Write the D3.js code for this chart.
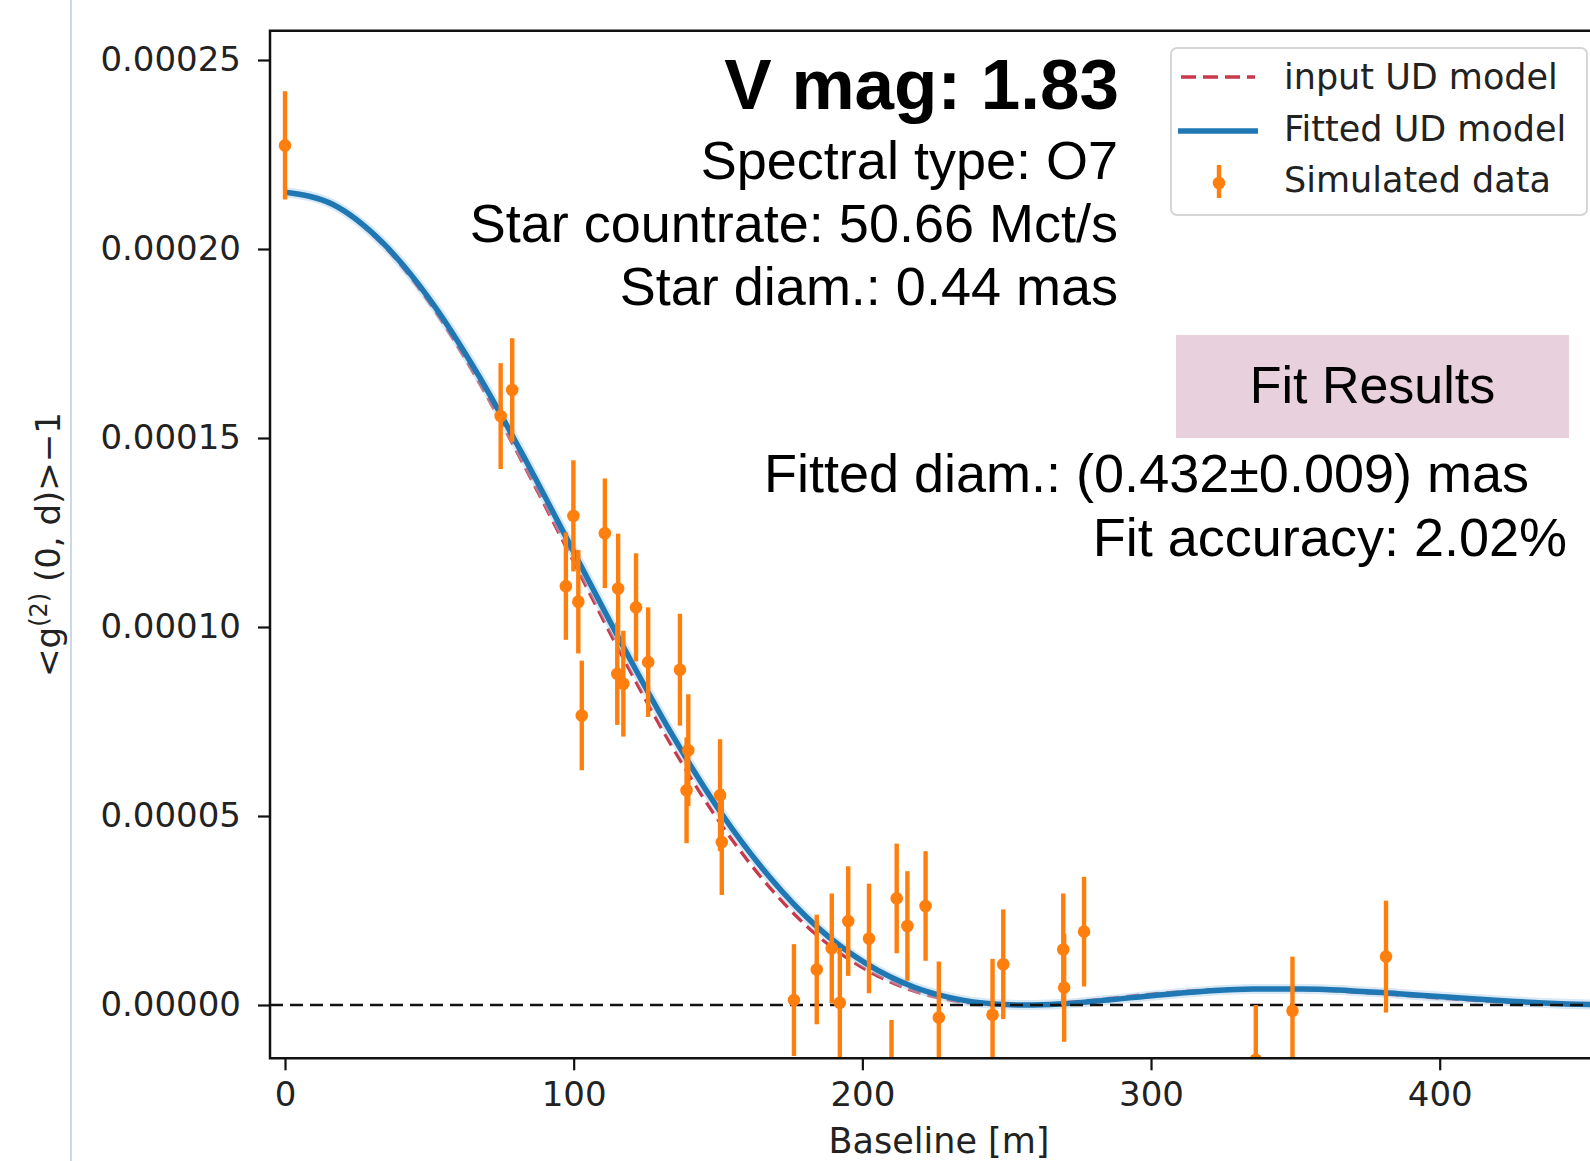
<!DOCTYPE html>
<html>
<head>
<meta charset="utf-8">
<script src="https://cdn.jsdelivr.net/npm/d3@7"></script>
<style>
  html, body { margin: 0; padding: 0; background: #ffffff; }
  svg { display: block; }
</style>
</head>
<body>
<svg id="chart" width="1590" height="1161"></svg>
<script>
// ---------- data ----------
// simulated data: baseline [m], <g2(0,d)>-1, error
const baseline = [0, 74.7, 78.7, 97.3, 99.9, 101.6, 102.8, 110.8, 115.1, 115.4, 117.2, 121.6, 125.8, 136.8, 139.1, 139.7, 150.7, 151.3,
  176.3, 184.2, 189.4, 192.2, 195.1, 202.3, 210.1, 211.9, 215.6, 221.9, 226.5, 245.1, 248.8, 269.6, 269.9, 276.8, 336.3, 349.0, 381.4];
const g2 = [227.4e-6, 155.8e-6, 162.7e-6, 110.8e-6, 129.4e-6, 106.7e-6, 76.6e-6, 124.8e-6, 87.6e-6, 110.2e-6, 85.0e-6, 105.2e-6, 90.7e-6,
  88.7e-6, 56.8e-6, 67.4e-6, 55.5e-6, 43.1e-6, 1.3e-6, 9.4e-6, 15.0e-6, 0.6e-6, 22.2e-6, 17.6e-6, -18.5e-6, 28.2e-6, 20.9e-6, 26.2e-6,
  -3.3e-6, -2.6e-6, 10.8e-6, 14.7e-6, 4.6e-6, 19.4e-6, -14.5e-6, -1.5e-6, 12.8e-6];
const g2err = [14.3e-6, 14.0e-6, 13.7e-6, 14.2e-6, 14.7e-6, 13.7e-6, 14.5e-6, 14.5e-6, 13.5e-6, 14.5e-6, 14.0e-6, 14.3e-6, 14.5e-6,
  14.8e-6, 14.0e-6, 14.8e-6, 14.8e-6, 14.0e-6, 14.8e-6, 14.5e-6, 14.5e-6, 14.5e-6, 14.5e-6, 14.5e-6, 14.5e-6, 14.5e-6, 14.5e-6, 14.5e-6,
  14.8e-6, 14.8e-6, 14.5e-6, 14.8e-6, 14.3e-6, 14.5e-6, 14.5e-6, 14.3e-6, 14.8e-6];

// fitted UD model curve
const fitB = [0, 16.8, 33.5, 50.3, 67.1, 83.8, 100.6, 117.4, 134.1, 150.9, 167.7, 184.4, 201.2, 218.0, 234.7, 251.5, 257.0,
  268.3, 285.0, 301.8, 318.6, 335.4, 352.1, 368.9, 385.7, 402.4, 419.2, 436.0, 452.7, 469.5];
// input UD model curve (red dashed, slightly inside the blue one)
const inputB = [0, 16.5, 32.9, 49.4, 65.9, 82.3, 98.8, 115.3, 131.7, 148.2, 164.7, 181.1, 197.6, 214.1, 230.5, 247.0, 252.4,
  263.5, 279.9, 296.4, 312.9, 329.4, 345.8, 362.3, 378.8, 395.2, 411.7, 428.2, 444.6, 461.1];
const modelV = [215.0e-6, 211.7e-6, 201.9e-6, 186.5e-6, 166.5e-6, 143.5e-6, 119.0e-6, 94.5e-6, 71.5e-6, 51.0e-6, 34.0e-6, 20.6e-6,
  11.0e-6, 4.7e-6, 1.3e-6, 0.07e-6, 0, 0.26e-6, 1.3e-6, 2.6e-6, 3.65e-6, 4.25e-6, 4.25e-6, 3.8e-6, 3.0e-6, 2.1e-6, 1.23e-6, 0.55e-6, 0.14e-6, 0];

const yTicks = [0, 0.00005, 0.0001, 0.00015, 0.0002, 0.00025];
const xTicks = [0, 100, 200, 300, 400];

const legendLabels = ["input UD model", "Fitted UD model", "Simulated data"];
const infoTitle = "V mag: 1.83";
const infoLines = ["Spectral type: O7", "Star countrate: 50.66 Mct/s", "Star diam.: 0.44 mas"];
const fitTitle = "Fit Results";
const fitLines = ["Fitted diam.: (0.432\u00B10.009) mas", "Fit accuracy: 2.02%"];

// ---------- layout ----------
const L = 270, R = 1608, T = 30.7, B = 1058.3;
const svg = d3.select("#chart");
const x = d3.scaleLinear().domain([-5.2, 458.3]).range([L, R]);
const y = d3.scaleLinear().domain([-1.41e-5, 2.5775e-4]).range([B, T]);

const C_BLUE = "#1f77b4", C_ORANGE = "#ff7f0e", C_RED = "#c63a4c";
const DJ = "'DejaVu Sans', sans-serif";
const HV = "'Liberation Sans', Arial, Helvetica, sans-serif";

// decorative page rule on the left
svg.append("line").attr("x1", 71).attr("x2", 71).attr("y1", 0).attr("y2", 1161)
  .attr("stroke", "#c9d8ec").attr("stroke-width", 2);

svg.append("clipPath").attr("id", "clip").append("rect")
  .attr("x", L).attr("y", T).attr("width", R - L).attr("height", B - T);
const plot = svg.append("g").attr("clip-path", "url(#clip)");

const lineGen = (bs) => d3.line().x((d, i) => x(bs[i])).y(d => y(d)).curve(d3.curveMonotoneX);

// input model (red dashed)
plot.append("path").datum(modelV).attr("d", lineGen(inputB))
  .attr("fill", "none").attr("stroke", C_RED).attr("stroke-width", 3.4).attr("stroke-dasharray", "13,7");
// fitted model halo + line
plot.append("path").datum(modelV).attr("d", lineGen(fitB))
  .attr("fill", "none").attr("stroke", "#a9cbe6").attr("stroke-opacity", 0.45).attr("stroke-width", 10);
plot.append("path").datum(modelV).attr("d", lineGen(fitB))
  .attr("fill", "none").attr("stroke", C_BLUE).attr("stroke-width", 5.5);

// zero line
plot.append("line").attr("x1", L).attr("x2", R).attr("y1", y(0)).attr("y2", y(0))
  .attr("stroke", "#111").attr("stroke-width", 2.6).attr("stroke-dasharray", "13,7");

// error bars + points
const pts = plot.append("g");
baseline.forEach((b, i) => {
  pts.append("line").attr("x1", x(b)).attr("x2", x(b))
    .attr("y1", y(g2[i] - g2err[i])).attr("y2", y(g2[i] + g2err[i]))
    .attr("stroke", C_ORANGE).attr("stroke-width", 4.4);
});
baseline.forEach((b, i) => {
  pts.append("circle").attr("cx", x(b)).attr("cy", y(g2[i])).attr("r", 6.3).attr("fill", C_ORANGE);
});

// axes
const yAxis = d3.axisLeft(y).tickValues(yTicks).tickFormat(d3.format(".5f")).tickSize(12).tickPadding(17);
const gy = svg.append("g").attr("transform", `translate(${L},0)`).call(yAxis);
const xAxis = d3.axisBottom(x).tickValues(xTicks).tickFormat(d3.format("d")).tickSize(12).tickPadding(12);
const gx = svg.append("g").attr("transform", `translate(0,${B})`).call(xAxis);
[gx, gy].forEach(g => {
  g.select(".domain").remove();
  g.selectAll(".tick line").attr("stroke", "#111").attr("stroke-width", 2.2);
  g.selectAll(".tick text").attr("fill", "#222").style("font-family", DJ).style("font-size", "34px");
});

// frame
svg.append("path").attr("d", `M${R},${T}H${L}V${B}H${R}`)
  .attr("fill", "none").attr("stroke", "#111").attr("stroke-width", 2.5);

// axis labels
svg.append("text").attr("x", (L + R) / 2).attr("y", 1153).attr("text-anchor", "middle")
  .style("font-family", DJ).style("font-size", "35px").attr("fill", "#222").text("Baseline [m]");
const yl = svg.append("text").attr("transform", `translate(60,${(T + B) / 2}) rotate(-90)`)
  .attr("text-anchor", "middle").style("font-family", DJ).style("font-size", "34px").attr("fill", "#222");
yl.append("tspan").text("<g");
yl.append("tspan").attr("dy", -13).style("font-size", "24px").text("(2)");
yl.append("tspan").attr("dy", 13).text(" (0, d)>\u22121");

// star info text
svg.append("text").attr("x", 1119).attr("y", 109).attr("text-anchor", "end")
  .style("font-family", HV).style("font-weight", "bold").style("font-size", "71px").attr("fill", "#000").text(infoTitle);
infoLines.forEach((t, i) => {
  svg.append("text").attr("x", 1118).attr("y", 178.5 + i * 63).attr("text-anchor", "end")
    .style("font-family", HV).style("font-size", "54px").attr("fill", "#000").text(t);
});

// fit results box
svg.append("rect").attr("x", 1176).attr("y", 335).attr("width", 393).attr("height", 103).attr("fill", "#e8d0dc");
svg.append("text").attr("x", 1372.5).attr("y", 403).attr("text-anchor", "middle")
  .style("font-family", HV).style("font-size", "52px").attr("fill", "#000").text(fitTitle);
svg.append("text").attr("x", 1529).attr("y", 492).attr("text-anchor", "end")
  .style("font-family", HV).style("font-size", "54px").attr("fill", "#000").text(fitLines[0]);
svg.append("text").attr("x", 1567).attr("y", 556).attr("text-anchor", "end")
  .style("font-family", HV).style("font-size", "54px").attr("fill", "#000").text(fitLines[1]);

// legend
const lg = svg.append("g");
lg.append("rect").attr("x", 1171).attr("y", 48).attr("width", 416).attr("height", 167).attr("rx", 6)
  .attr("fill", "#fff").attr("fill-opacity", 0.85).attr("stroke", "#d6d6d6").attr("stroke-width", 2);
lg.append("line").attr("x1", 1181).attr("x2", 1255).attr("y1", 77).attr("y2", 77)
  .attr("stroke", C_RED).attr("stroke-width", 3.4).attr("stroke-dasharray", "15,7");
lg.append("line").attr("x1", 1178).attr("x2", 1258).attr("y1", 131).attr("y2", 131)
  .attr("stroke", C_BLUE).attr("stroke-width", 5.5);
lg.append("line").attr("x1", 1219).attr("x2", 1219).attr("y1", 165).attr("y2", 198)
  .attr("stroke", C_ORANGE).attr("stroke-width", 4.4);
lg.append("circle").attr("cx", 1219).attr("cy", 183).attr("r", 6.3).attr("fill", C_ORANGE);
legendLabels.forEach((t, i) => {
  lg.append("text").attr("x", 1284).attr("y", 89 + i * 51.5)
    .style("font-family", DJ).style("font-size", "35px").attr("fill", "#222").text(t);
});
</script>
</body>
</html>
